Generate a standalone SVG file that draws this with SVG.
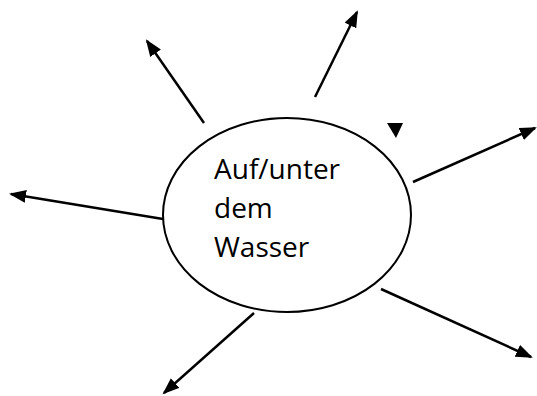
<svg xmlns="http://www.w3.org/2000/svg" width="537" height="396" viewBox="0 0 537 396">
<style>
.edge{stroke:#000;stroke-width:2.5;fill:none;marker-end:url(#ah)}
.lbl{font-family:"Open Sans","Liberation Sans",sans-serif;font-size:28px;fill:#000}
</style>
<defs>
<marker id="ah" markerUnits="userSpaceOnUse" markerWidth="18" markerHeight="14" refX="15" refY="6.5" orient="auto">
<path d="M0,0 L17,6.5 L0,13 z" fill="#000"/>
</marker>
</defs>
<rect width="537" height="396" fill="#fff"/>
<g id="center">
<ellipse cx="287" cy="215" rx="124" ry="97" fill="#fff" stroke="#000" stroke-width="2"/>
<text class="lbl" x="214" y="179">Auf/unter</text>
<text class="lbl" x="214" y="218">dem</text>
<text class="lbl" x="214" y="257">Wasser</text>
</g>
<g id="connectors">
<line class="edge" x1="204" y1="123" x2="147" y2="41"/>
<line class="edge" x1="315" y1="97" x2="357" y2="12"/>
<line class="edge" x1="413" y1="182" x2="535" y2="128"/>
<line class="edge" x1="163" y1="219" x2="11" y2="194"/>
<line class="edge" x1="381" y1="289" x2="531" y2="357"/>
<line class="edge" x1="254" y1="313" x2="164" y2="393"/>
<path d="M387,123 L403,123 L396,138 z" fill="#000"/>
</g>
</svg>
